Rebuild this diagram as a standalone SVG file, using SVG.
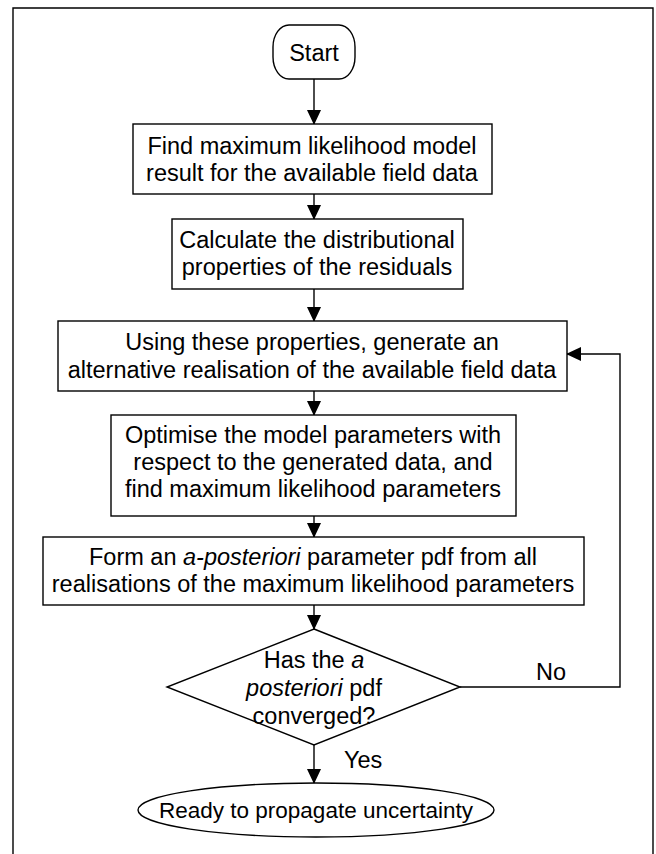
<svg xmlns="http://www.w3.org/2000/svg" width="656" height="854" viewBox="0 0 656 854">
<style>
.s{fill:#fff;stroke:#000;stroke-width:1.4}
.t{font-family:"Liberation Sans",Arial,sans-serif;font-size:23.5px;fill:#000;text-anchor:middle}
.l{font-family:"Liberation Sans",Arial,sans-serif;font-size:23.5px;fill:#000}
.c{fill:none;stroke:#000;stroke-width:1.4}
</style>
<defs>
<marker id="a" markerWidth="15" markerHeight="14" refX="14" refY="7" orient="auto" markerUnits="userSpaceOnUse">
<path d="M0,0 L15,7 L0,14 Z" fill="#000"/>
</marker>
</defs>
<rect width="656" height="854" fill="#fff"/>
<path d="M13,854 V8 H653 V854" class="c"/>
<g id="connectors">
<line x1="314" y1="79" x2="314" y2="124" class="c" marker-end="url(#a)"/>
<line x1="314" y1="194" x2="314" y2="219" class="c" marker-end="url(#a)"/>
<line x1="314" y1="289" x2="314" y2="321" class="c" marker-end="url(#a)"/>
<line x1="314" y1="391" x2="314" y2="415" class="c" marker-end="url(#a)"/>
<line x1="314" y1="516" x2="314" y2="537" class="c" marker-end="url(#a)"/>
<line x1="314" y1="605" x2="314" y2="629" class="c" marker-end="url(#a)"/>
<line x1="314" y1="745" x2="314" y2="783" class="c" marker-end="url(#a)"/>
<polyline points="460,687 620,687 620,354 567,354" class="c" marker-end="url(#a)"/>
<text x="536" y="680" class="l">No</text>
<text x="344" y="768" class="l">Yes</text>
</g>
<g id="start">
<rect x="273" y="25" width="82" height="54" rx="16" ry="22" class="s"/>
<text x="314" y="61" class="t">Start</text>
</g>
<g id="box1">
<rect x="133" y="124" width="359" height="70" class="s"/>
<text x="312" y="154" class="t">Find maximum likelihood model</text>
<text x="312" y="181" class="t">result for the available field data</text>
</g>
<g id="box2">
<rect x="172" y="219" width="291" height="70" class="s"/>
<text x="317" y="248" class="t">Calculate the distributional</text>
<text x="317" y="275" class="t">properties of the residuals</text>
</g>
<g id="box3">
<rect x="58" y="321" width="509" height="70" class="s"/>
<text x="312" y="350" class="t">Using these properties, generate an</text>
<text x="312" y="378" class="t">alternative realisation of the available field data</text>
</g>
<g id="box4">
<rect x="111" y="415" width="405" height="101" class="s"/>
<text x="313" y="443" class="t">Optimise the model parameters with</text>
<text x="313" y="470" class="t">respect to the generated data, and</text>
<text x="313" y="497" class="t">find maximum likelihood parameters</text>
</g>
<g id="box5">
<rect x="43" y="537" width="541" height="68" class="s"/>
<text x="313" y="565" class="t">Form an <tspan font-style="italic">a-posteriori</tspan> parameter pdf from all</text>
<text x="313" y="592" class="t">realisations of the maximum likelihood parameters</text>
</g>
<g id="decision">
<polygon points="314,629 460,687 314,745 167,687" class="s"/>
<text x="314" y="668" class="t">Has the <tspan font-style="italic">a</tspan></text>
<text x="314" y="696" class="t"><tspan font-style="italic">posteriori</tspan> pdf</text>
<text x="314" y="724" class="t">converged?</text>
</g>
<g id="end">
<ellipse cx="316" cy="810" rx="178" ry="27" class="s"/>
<text x="316" y="818" class="t" style="font-size:22.5px">Ready to propagate uncertainty</text>
</g>
</svg>
